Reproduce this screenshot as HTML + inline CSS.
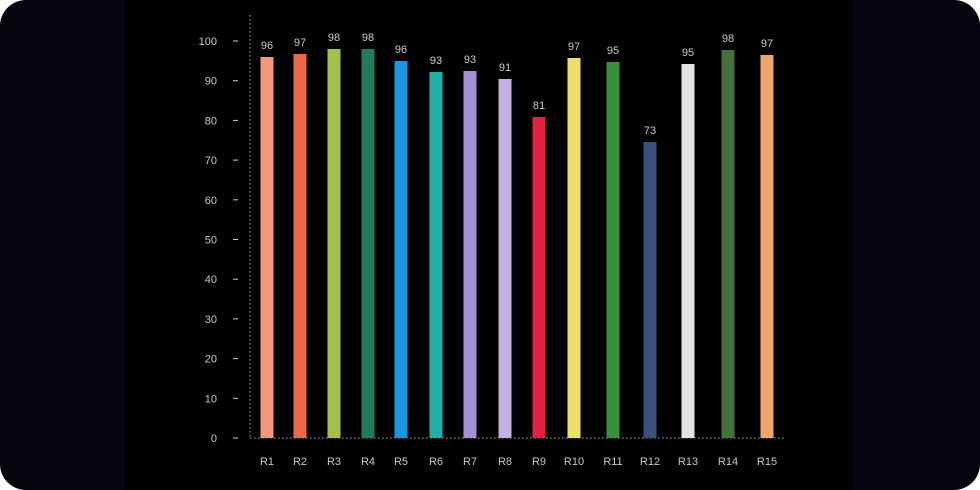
<!DOCTYPE html>
<html><head><style>
html,body{margin:0;padding:0;background:#fff;}
.wrap{position:relative;width:980px;height:490px;background:#05050f;border-radius:26px;overflow:hidden;}
.inner{position:absolute;left:125px;top:0;width:728px;height:490px;background:#000;}
svg{position:absolute;left:0;top:0;}
text{font-family:"Liberation Sans",sans-serif;font-size:11px;fill:#c8c8c8;}
</style></head><body>
<div class="wrap"><div class="inner"></div>
<svg width="980" height="490">
<line x1="250" y1="15" x2="250" y2="438" stroke="#aaa" stroke-dasharray="1.5,2.5" stroke-width="1"/>
<line x1="250" y1="438" x2="785" y2="438" stroke="#aaa" stroke-dasharray="1.5,2.5" stroke-width="1"/>
<g id="yt"></g><g id="bars"></g>
</svg></div>
<script>
const ns="http://www.w3.org/2000/svg";
const yt=document.getElementById('yt'),bg=document.getElementById('bars');
function el(p,t,a,txt){const e=document.createElementNS(ns,t);for(const k in a)e.setAttribute(k,a[k]);if(txt!==undefined)e.textContent=txt;p.appendChild(e);return e;}
for(let v=0;v<=100;v+=10){const y=438-v*3.97;
el(yt,'text',{x:217,y:y+4,'text-anchor':'end'},v);
el(yt,'line',{x1:233,x2:238,y1:y,y2:y,stroke:'#ccc','stroke-width':1});}
const d=[[267,57,96,'#f4977a'],[300,54,97,'#ea6a48'],[334,49,98,'#a2c04a'],[368,49,98,'#1f7a5e'],[401,61,96,'#1b96e0'],[436,72,93,'#1fb0a8'],[470,71,93,'#a58fd8'],[505,79,91,'#c4b1e0'],[539,117,81,'#e5213f'],[574,58,97,'#ece06a'],[613,62,95,'#3a8f3a'],[650,142,73,'#37507c'],[688,64,95,'#e2e2e2'],[728,50,98,'#44703a'],[767,55,97,'#f0a66c']];
d.forEach((b,i)=>{el(bg,'rect',{x:b[0]-6.5,y:b[1],width:13,height:438-b[1],fill:b[3]});
el(bg,'text',{x:b[0],y:b[1]-8,'text-anchor':'middle'},b[2]);
el(bg,'text',{x:b[0],y:465,'text-anchor':'middle'},'R'+(i+1));});
</script>
</body></html>
